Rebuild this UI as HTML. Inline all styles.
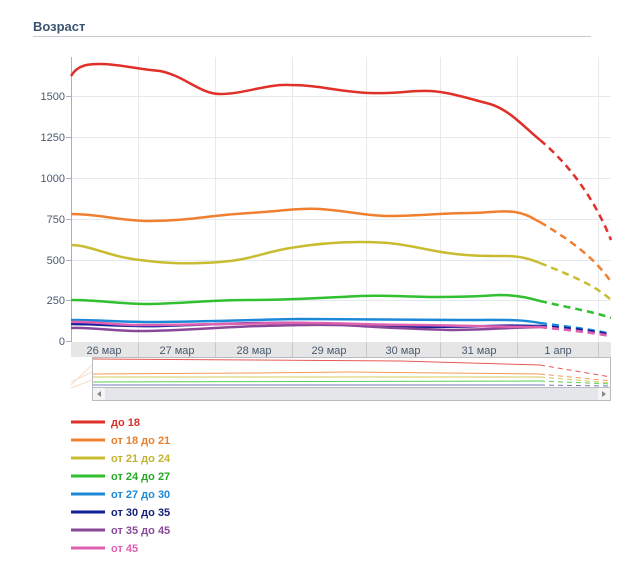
<!DOCTYPE html>
<html><head><meta charset="utf-8"><style>
body{margin:0;background:#fff;font-family:"Liberation Sans",Tahoma,sans-serif;}
</style></head><body>
<svg width="625" height="570" xmlns="http://www.w3.org/2000/svg" font-family="Liberation Sans, sans-serif">
<rect width="625" height="570" fill="#fff"/>
<text x="33" y="31" font-size="13" font-weight="bold" fill="#3b5570">Возраст</text>
<line x1="33" y1="36.5" x2="591" y2="36.5" stroke="#c6cbd2"/>
<!-- grid -->
<g stroke="#e6e9ee" stroke-width="1">
<line x1="71" y1="96.5" x2="611" y2="96.5"/><line x1="71" y1="137.5" x2="611" y2="137.5"/>
<line x1="71" y1="178.5" x2="611" y2="178.5"/><line x1="71" y1="219.5" x2="611" y2="219.5"/>
<line x1="71" y1="260.5" x2="611" y2="260.5"/><line x1="71" y1="300.5" x2="611" y2="300.5"/>
<line x1="138.5" y1="57" x2="138.5" y2="341"/><line x1="215.5" y1="57" x2="215.5" y2="341"/>
<line x1="292.5" y1="57" x2="292.5" y2="341"/><line x1="366.5" y1="57" x2="366.5" y2="341"/>
<line x1="440.5" y1="57" x2="440.5" y2="341"/><line x1="517.5" y1="57" x2="517.5" y2="341"/>
<line x1="598.5" y1="57" x2="598.5" y2="341"/>
</g>
<line x1="71.5" y1="57" x2="71.5" y2="342" stroke="#a8b0bb"/>
<g stroke="#a8b0bb"><line x1="66" y1="96.5" x2="71" y2="96.5"/><line x1="66" y1="137.5" x2="71" y2="137.5"/><line x1="66" y1="178.5" x2="71" y2="178.5"/><line x1="66" y1="219.5" x2="71" y2="219.5"/><line x1="66" y1="260.5" x2="71" y2="260.5"/><line x1="66" y1="300.5" x2="71" y2="300.5"/><line x1="66" y1="341.5" x2="71" y2="341.5"/></g>
<g font-size="11" fill="#4a5a6e" text-anchor="end">
<text x="65" y="100">1500</text><text x="65" y="141">1250</text><text x="65" y="182">1000</text>
<text x="65" y="223">750</text><text x="65" y="264">500</text><text x="65" y="304">250</text><text x="65" y="345">0</text>
</g>
<!-- date band -->
<rect x="71" y="342" width="540" height="15" fill="#e6e6e6"/>
<g stroke="#c8c8c8"><line x1="138.5" y1="342" x2="138.5" y2="357"/><line x1="215.5" y1="342" x2="215.5" y2="357"/><line x1="292.5" y1="342" x2="292.5" y2="357"/><line x1="366.5" y1="342" x2="366.5" y2="357"/><line x1="440.5" y1="342" x2="440.5" y2="357"/><line x1="517.5" y1="342" x2="517.5" y2="357"/><line x1="598.5" y1="342" x2="598.5" y2="357"/></g>
<g font-size="11" fill="#4a5a6e" text-anchor="middle">
<text x="104" y="354">26 мар</text><text x="177" y="354">27 мар</text><text x="254" y="354">28 мар</text><text x="329" y="354">29 мар</text><text x="403" y="354">30 мар</text><text x="479" y="354">31 мар</text><text x="558" y="354">1 апр</text>
</g>
<!-- series -->
<g fill="none" stroke-width="2.5">
<path d="M71,76 C78,64 90,64 100,64 C120,64 135,69 160,71 C185,76 200,94 220,94 C245,94 265,84 290,85 C320,85 340,92 370,93 C400,94 410,90 430,91 C450,92 470,99 490,104 C510,110 525,128 540,140" stroke="#e0302a"/>
<path d="M540,140 C570,165 595,200 611,240" stroke="#e0302a" stroke-dasharray="7,5"/>
<path d="M71,214 C100,214 120,221 150,221 C190,221 210,215 250,213 C280,211 300,208 320,209 C350,211 365,216 390,216 C420,216 440,213 470,213 C490,213 500,210 515,212 C528,214 535,220 540,222" stroke="#f08030"/>
<path d="M540,222 C570,240 595,258 611,282" stroke="#f08030" stroke-dasharray="7,5"/>
<path d="M71,245 C90,245 110,257 140,260 C170,264 190,264 220,262 C250,260 265,252 290,248 C320,243 340,242 360,242 C390,242 400,244 430,250 C460,256 480,256 505,256 C520,256 530,259 540,263" stroke="#c8bc30"/>
<path d="M540,263 C570,275 595,285 611,300" stroke="#c8bc30" stroke-dasharray="7,5"/>
<path d="M71,300 C100,300 120,304 150,304 C190,303 210,300 250,300 C290,300 320,298 360,296 C390,295 410,297 440,297 C470,297 480,296 500,295 C515,295 530,298 540,301" stroke="#30c030"/>
<path d="M540,301 C570,308 595,312 611,318" stroke="#30c030" stroke-dasharray="7,5"/>
<path d="M71,320 C100,320 120,322 150,322 C200,322 240,320 300,319 C350,319 400,320 460,320 C500,320 520,319 540,323" stroke="#1e88d8"/>
<path d="M540,323 C570,327 595,330 611,334" stroke="#1e88d8" stroke-dasharray="7,5"/>
<path d="M71,324 C100,324 130,327 160,326 C200,325 250,322 300,323 C340,324 360,326 390,327 C420,327 450,327 490,326 C515,325 530,326 540,326" stroke="#14209a"/>
<path d="M540,326 C570,328 595,331 611,335" stroke="#14209a" stroke-dasharray="7,5"/>
<path d="M71,328 C90,327 110,331 140,331 C180,331 220,327 260,326 C300,325 330,324 360,326 C390,328 420,329 450,330 C480,330 500,328 540,327" stroke="#8a4898"/>
<path d="M540,327 C570,330 595,333 611,336" stroke="#8a4898" stroke-dasharray="7,5"/>
<path d="M71,322 C90,321 110,325 140,325 C180,325 230,324 280,323 C330,322 370,325 410,325 C450,325 490,327 540,327" stroke="#e060b0"/>
<path d="M540,327 C570,330 595,333 611,336" stroke="#e060b0" stroke-dasharray="7,5"/>
</g>
<!-- navigator -->
<rect x="92.5" y="357.5" width="518" height="30" fill="#fff" stroke="#b8bcc2"/>
<g fill="none" stroke-width="1" opacity="0.8">
<path d="M93,359 L400,361 L540,365" stroke="#e0302a"/><path d="M540,365 L611,377" stroke="#e0302a" stroke-dasharray="5,4"/>
<path d="M93,374 L250,373 L350,372 L540,374" stroke="#f08030"/><path d="M540,374 L611,381" stroke="#f08030" stroke-dasharray="5,4"/>
<path d="M93,377 L540,377" stroke="#c8bc30"/><path d="M540,377 L611,383" stroke="#c8bc30" stroke-dasharray="5,4"/>
<path d="M93,382 L540,381" stroke="#30c030"/><path d="M540,381 L611,384" stroke="#30c030" stroke-dasharray="5,4"/>
<path d="M93,385 L540,385" stroke="#5058b0"/><path d="M540,385 L611,386" stroke="#5058b0" stroke-dasharray="5,4"/>
</g>
<g fill="none" stroke="#f3c8a8" opacity="0.6"><path d="M71,385 L92,365"/><path d="M71,382 L92,372"/><path d="M71,388 L92,380"/></g>
<rect x="92.5" y="387.5" width="518" height="13" fill="#e4e6e9" stroke="#b8bcc2"/>
<rect x="93" y="388" width="12" height="12" fill="#f4f4f4"/><rect x="598" y="388" width="12" height="12" fill="#f4f4f4"/>
<path d="M101,391 L97,394 L101,397Z" fill="#888"/><path d="M602,391 L606,394 L602,397Z" fill="#888"/>
<!-- legend -->
<g stroke-width="3">
<line x1="71" y1="422" x2="105" y2="422" stroke="#e0302a"/>
<line x1="71" y1="440" x2="105" y2="440" stroke="#f08030"/>
<line x1="71" y1="458" x2="105" y2="458" stroke="#c8bc30"/>
<line x1="71" y1="476" x2="105" y2="476" stroke="#30c030"/>
<line x1="71" y1="494" x2="105" y2="494" stroke="#1e88d8"/>
<line x1="71" y1="512" x2="105" y2="512" stroke="#14209a"/>
<line x1="71" y1="530" x2="105" y2="530" stroke="#8a4898"/>
<line x1="71" y1="548" x2="105" y2="548" stroke="#e060b0"/>
</g>
<g font-size="11" font-weight="bold">
<text x="111" y="426" fill="#d83028">до 18</text>
<text x="111" y="444" fill="#e88030">от 18 до 21</text>
<text x="111" y="462" fill="#c0b430">от 21 до 24</text>
<text x="111" y="480" fill="#28a828">от 24 до 27</text>
<text x="111" y="498" fill="#1e88d8">от 27 до 30</text>
<text x="111" y="516" fill="#14207a">от 30 до 35</text>
<text x="111" y="534" fill="#8a4898">от 35 до 45</text>
<text x="111" y="552" fill="#e060b0">от 45</text>
</g>
</svg>
</body></html>
